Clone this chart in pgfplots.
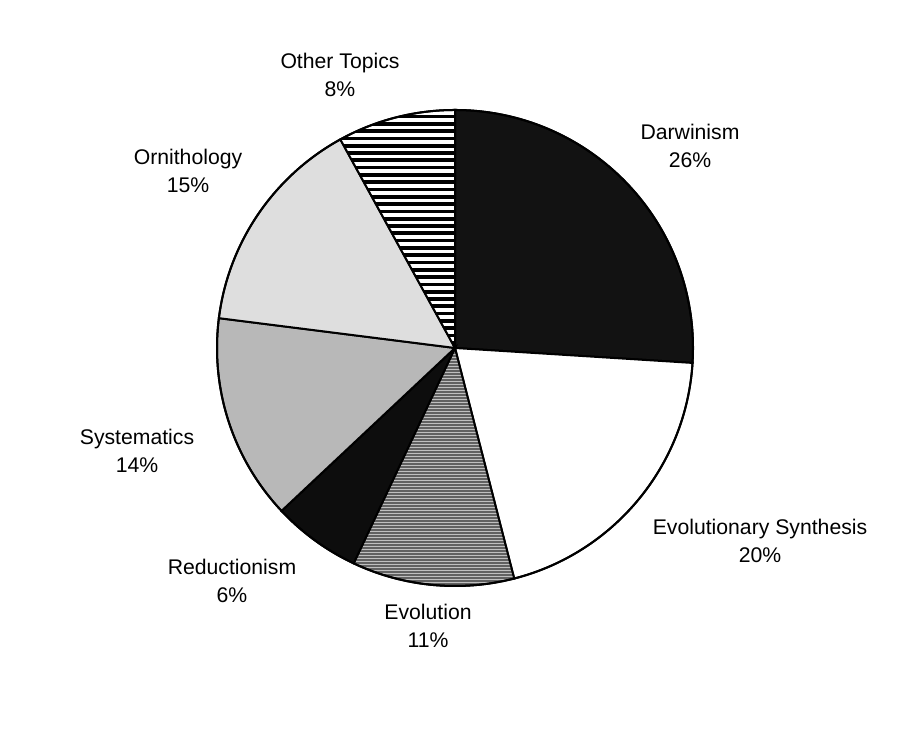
\documentclass[border=0pt]{standalone}
\usepackage{pgfplots}
\pgfplotsset{compat=1.18}
\usepackage{fontspec}
\setmainfont{Liberation Sans}
% shares (per cent), clockwise from 12 o'clock
% Darwinism 26, Evolutionary Synthesis 20, Evolution 11, Reductionism 6,
% Systematics 14, Ornithology 15, Other Topics 8
\newcommand{\slicepath}[2]{(axis cs:455,383) -- ++({90-3.6*#1}:119pt)
    arc[start angle={90-3.6*#1}, end angle={90-3.6*(#1+#2)}, radius=119pt] -- cycle}
\newcommand{\slice}[3]{\filldraw[line width=1pt,#3] \slicepath{#1}{#2};}
% slice with horizontal stripes: start, share, background, stripe colour, stripe width, second stripe position
\newcommand{\stripeslice}[6]{%
  \pgfplotsextra{%
  \fill[#3] \slicepath{#1}{#2};
  \begin{scope}
    \clip \slicepath{#1}{#2};
    \foreach \yy in {140,#6,...,626} {\draw[#4,line width=#5] (axis cs:200,\yy) -- (axis cs:710,\yy);}
  \end{scope}
  \draw[line width=1pt] \slicepath{#1}{#2};}}
\begin{document}
\begin{tikzpicture}
\begin{axis}[x=0.5pt,y=0.5pt,xmin=0,xmax=909,ymin=0,ymax=731,hide axis,clip=false]
\path (axis cs:0,0) rectangle (axis cs:909,731);
\slice{0}{26}{fill=black!93}
\slice{26}{20}{fill=white}
\stripeslice{46}{11}{black!62}{white!75!black}{0.45pt}{143}
\slice{57}{6}{fill=black!95}
\slice{63}{14}{fill=black!28}
\slice{77}{15}{fill=black!13}
\stripeslice{92}{8}{white}{black}{1.85pt}{147.3}
\draw[line width=1pt] (axis cs:455,383) circle[radius=119pt];
\begin{scope}[every node/.style={align=center,font=\fontsize{10.6}{14}\selectfont}]
\node at (axis cs:340,656) {Other Topics\\8\%};
\node at (axis cs:690,585) {Darwinism\\26\%};
\node at (axis cs:188,560) {Ornithology\\15\%};
\node at (axis cs:137,280) {Systematics\\14\%};
\node at (axis cs:232,150) {Reductionism\\6\%};
\node at (axis cs:428,105) {Evolution\\11\%};
\node at (axis cs:760,190) {Evolutionary Synthesis\\20\%};
\end{scope}
\end{axis}
\end{tikzpicture}
\end{document}
